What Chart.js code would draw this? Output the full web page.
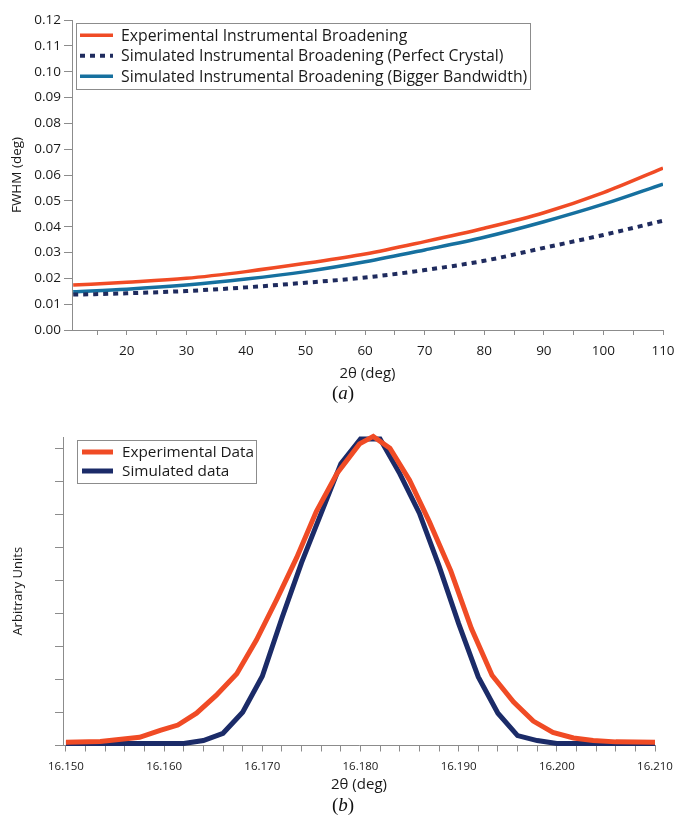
<!DOCTYPE html>
<html>
<head>
<meta charset="utf-8">
<title>Instrumental broadening</title>
<script src="https://cdn.jsdelivr.net/npm/chart.js@4.4.0/dist/chart.umd.min.js"></script>
<style>
  html, body { margin: 0; padding: 0; background: #fff; }
  body { width: 678px; height: 816px; position: relative; overflow: hidden; }
  .panel { position: absolute; left: 0; width: 678px; }
  #panelA { top: 0; height: 400px; }
  #panelB { top: 400px; height: 416px; }
  .tag {
    position: absolute;
    font-family: "Liberation Serif", serif;
    font-size: 19px;
    color: #111;
    transform: translateX(-50%);
    white-space: nowrap;
  }
</style>
</head>
<body>
<div class="panel" id="panelA"><canvas id="fwhmChart"></canvas></div>
<div class="panel" id="panelB"><canvas id="peakChart"></canvas></div>
<div class="tag" style="left:343px; top:382px;">(<i>a</i>)</div>
<div class="tag" style="left:343px; top:794px;">(<i>b</i>)</div>

<script>
// ---- (a) FWHM vs 2theta ----
const twoTheta = [11, 20, 30, 40, 50, 60, 70, 80, 90, 100, 110];
const fwhmExperimental = [0.0174, 0.0185, 0.0200, 0.0226, 0.0258, 0.0294, 0.0342, 0.0394, 0.0454, 0.0532, 0.0627];
const fwhmPerfectCrystal = [0.0137, 0.0142, 0.0151, 0.0165, 0.0183, 0.0203, 0.0232, 0.0268, 0.0318, 0.0368, 0.0423];
const fwhmBiggerBandwidth = [0.0148, 0.0158, 0.0174, 0.0197, 0.0226, 0.0264, 0.0310, 0.0359, 0.0419, 0.0487, 0.0565];
const fwhmTicksY = [0, 0.01, 0.02, 0.03, 0.04, 0.05, 0.06, 0.07, 0.08, 0.09, 0.10, 0.11, 0.12];

// ---- (b) single peak profile ----
const expAngle = [16.150, 16.1535, 16.1575, 16.1596, 16.1614, 16.1633, 16.1653, 16.1674, 16.1694, 16.1715,
                  16.1735, 16.1755, 16.1776, 16.1799, 16.1813, 16.1830, 16.1850, 16.1870, 16.1892, 16.1913,
                  16.1934, 16.1956, 16.1976, 16.1996, 16.2017, 16.2037, 16.2060, 16.210];
const expIntensity = [0.10, 0.12, 0.25, 0.46, 0.62, 0.98, 1.52, 2.18, 3.20, 4.45,
                      5.70, 7.10, 8.25, 9.15, 9.38, 9.02, 8.05, 6.80, 5.30, 3.55,
                      2.13, 1.32, 0.74, 0.40, 0.23, 0.15, 0.11, 0.10];
const simAngle = [16.150, 16.162, 16.164, 16.166, 16.168, 16.170, 16.172, 16.174, 16.176, 16.178,
                  16.180, 16.182, 16.184, 16.186, 16.188, 16.190, 16.192, 16.194, 16.196, 16.198,
                  16.200, 16.210];
const simIntensity = [0.06, 0.06, 0.15, 0.37, 1.01, 2.10, 3.87, 5.55, 7.05, 8.55,
                      9.30, 9.30, 8.25, 7.05, 5.45, 3.70, 2.08, 0.98, 0.30, 0.15,
                      0.06, 0.06];

const RED = '#f04b25';
const TEAL = '#16709f';
const NAVY_DOT = '#1f2b5e';
const NAVY = '#1b2b68';
const AXIS = '#8c8c8c';
const SANS = '"Open Sans", "DejaVu Sans", sans-serif';

function pairs(xs, ys) {
    return xs.map((x, i) => ({ x: x, y: ys[i] }));
}

// Legend drawn as a framed box inside the plot area
const boxLegend = {
    id: 'boxLegend',
    afterDatasetsDraw(chart, args, opts) {
        const ctx = chart.ctx;
        const area = chart.chartArea;
        const sets = chart.data.datasets;
        ctx.save();
        ctx.font = opts.font;
        const textW = Math.max(...sets.map(d => ctx.measureText(d.label).width));
        const left = area.left + opts.x;
        const top = area.top + opts.y;
        const w = opts.padLeft + opts.sample + opts.gap + textW + opts.padRight;
        const h = opts.padTop * 2 + opts.rowHeight * sets.length;
        ctx.fillStyle = '#fff';
        ctx.fillRect(left, top, w, h);
        ctx.strokeStyle = AXIS;
        ctx.lineWidth = 1;
        ctx.strokeRect(Math.round(left) + 0.5, Math.round(top) + 0.5, Math.round(w), Math.round(h));
        sets.forEach((d, i) => {
            const cy = top + opts.padTop + opts.rowHeight * (i + 0.5);
            ctx.beginPath();
            ctx.setLineDash(d.borderDash || []);
            ctx.strokeStyle = d.borderColor;
            ctx.lineWidth = opts.lineWidth || d.borderWidth;
            ctx.moveTo(left + opts.padLeft, cy);
            ctx.lineTo(left + opts.padLeft + opts.sample, cy);
            ctx.stroke();
            ctx.setLineDash([]);
            ctx.fillStyle = '#1a1a1a';
            ctx.textBaseline = 'middle';
            ctx.textAlign = 'left';
            ctx.fillText(d.label, left + opts.padLeft + opts.sample + opts.gap, cy + 1);
        });
        ctx.restore();
    }
};

document.addEventListener('DOMContentLoaded', function() {
    // Top panel: FWHM curves
    new Chart(document.getElementById('fwhmChart'), {
        type: 'line',
        data: {
            datasets: [{
                label: 'Experimental Instrumental Broadening',
                data: pairs(twoTheta, fwhmExperimental),
                borderColor: RED,
                borderWidth: 3.5,
                pointRadius: 0,
                cubicInterpolationMode: 'monotone'
            }, {
                label: 'Simulated Instrumental Broadening (Perfect Crystal)',
                data: pairs(twoTheta, fwhmPerfectCrystal),
                borderColor: NAVY_DOT,
                borderWidth: 4,
                borderDash: [5, 5],
                pointRadius: 0,
                cubicInterpolationMode: 'monotone'
            }, {
                label: 'Simulated Instrumental Broadening (Bigger Bandwidth)',
                data: pairs(twoTheta, fwhmBiggerBandwidth),
                borderColor: TEAL,
                borderWidth: 3.5,
                pointRadius: 0,
                cubicInterpolationMode: 'monotone'
            }]
        },
        options: {
            responsive: true,
            maintainAspectRatio: false,
            animation: false,
            layout: { padding: { left: 0, top: 20, right: 15, bottom: 17 } },
            plugins: {
                legend: { display: false },
                tooltip: { enabled: false },
                boxLegend: {
                    x: 4, y: 3, padLeft: 4, sample: 33, gap: 8, padRight: 3,
                    padTop: 2, rowHeight: 20.5, font: '15.8px ' + SANS
                }
            },
            scales: {
                x: {
                    type: 'linear',
                    min: 10.8,
                    max: 110,
                    afterBuildTicks: scale => {
                        const t = [];
                        for (let v = 15; v <= 110; v += 5) t.push({ value: v });
                        scale.ticks = t;
                    },
                    afterFit: scale => {
                        scale.height = 53;
                        scale.paddingLeft = 0;
                        scale.paddingRight = 0;
                    },
                    ticks: {
                        autoSkip: false,
                        maxRotation: 0,
                        padding: 8,
                        color: '#1a1a1a',
                        font: { family: SANS, size: 13.5 },
                        callback: v => (v % 10 === 0 ? String(v) : '')
                    },
                    grid: { drawOnChartArea: false, drawTicks: true, tickLength: 5, color: AXIS },
                    border: { color: AXIS, width: 1 },
                    title: {
                        display: true,
                        text: '2θ (deg)',
                        color: '#1a1a1a',
                        font: { family: SANS, size: 15 },
                        padding: { top: 0, bottom: 0 }
                    }
                },
                y: {
                    min: 0,
                    max: 0.12,
                    afterBuildTicks: scale => { scale.ticks = fwhmTicksY.map(v => ({ value: v })); },
                    afterFit: scale => { scale.width = 72; },
                    ticks: {
                        padding: 3,
                        color: '#1a1a1a',
                        font: { family: SANS, size: 13.5 },
                        callback: v => v.toFixed(2)
                    },
                    grid: { drawOnChartArea: false, drawTicks: true, tickLength: 8, color: AXIS },
                    border: { color: AXIS, width: 1 },
                    title: {
                        display: true,
                        text: 'FWHM (deg)',
                        color: '#1a1a1a',
                        font: { family: SANS, size: 13.5 },
                        padding: { top: 9, bottom: 0 }
                    }
                }
            }
        },
        plugins: [boxLegend]
    });

    // Bottom panel: measured vs simulated peak
    new Chart(document.getElementById('peakChart'), {
        type: 'line',
        data: {
            datasets: [{
                label: 'Experimental Data',
                data: pairs(expAngle, expIntensity),
                borderColor: RED,
                borderWidth: 5,
                pointRadius: 0,
                tension: 0,
                clip: false
            }, {
                label: 'Simulated data',
                data: pairs(simAngle, simIntensity),
                borderColor: NAVY,
                borderWidth: 5,
                pointRadius: 0,
                tension: 0,
                clip: false
            }]
        },
        options: {
            responsive: true,
            maintainAspectRatio: false,
            animation: false,
            layout: { padding: { left: 0, top: 37, right: 23, bottom: 22 } },
            plugins: {
                legend: { display: false },
                tooltip: { enabled: false },
                boxLegend: {
                    x: 14, y: 3, padLeft: 5, sample: 31, gap: 9, padRight: 2,
                    padTop: 2.5, rowHeight: 19, font: '15.3px ' + SANS, lineWidth: 5
                }
            },
            scales: {
                x: {
                    type: 'linear',
                    min: 16.1497,
                    max: 16.210,
                    afterBuildTicks: scale => {
                        const t = [];
                        for (let i = 0; i <= 30; i++) t.push({ value: Math.round((16.150 + i * 0.002) * 1000) / 1000 });
                        scale.ticks = t;
                    },
                    afterFit: scale => {
                        scale.height = 48.5;
                        scale.paddingLeft = 0;
                        scale.paddingRight = 0;
                    },
                    ticks: {
                        autoSkip: false,
                        maxRotation: 0,
                        padding: 8,
                        color: '#1a1a1a',
                        font: { family: SANS, size: 11.5 },
                        callback: (v, i) => (i % 5 === 0 ? v.toFixed(3) : '')
                    },
                    grid: { drawOnChartArea: false, drawTicks: true, tickLength: 6, color: AXIS },
                    border: { color: AXIS, width: 1 },
                    title: {
                        display: true,
                        text: '2θ (deg)',
                        color: '#1a1a1a',
                        font: { family: SANS, size: 15 },
                        padding: { top: 0, bottom: 0 }
                    }
                },
                y: {
                    min: 0,
                    max: 9.36,
                    afterBuildTicks: scale => {
                        const t = [];
                        for (let v = 0; v <= 9; v++) t.push({ value: v });
                        scale.ticks = t;
                    },
                    afterFit: scale => { scale.width = 63; },
                    ticks: { callback: () => '' },
                    grid: { drawOnChartArea: false, drawTicks: true, tickLength: 8, color: AXIS },
                    border: { color: AXIS, width: 1 },
                    title: {
                        display: true,
                        text: 'Arbitrary Units',
                        color: '#1a1a1a',
                        font: { family: SANS, size: 13 },
                        padding: { top: 10, bottom: 0 }
                    }
                }
            }
        },
        plugins: [boxLegend]
    });
});
</script>
</body>
</html>
